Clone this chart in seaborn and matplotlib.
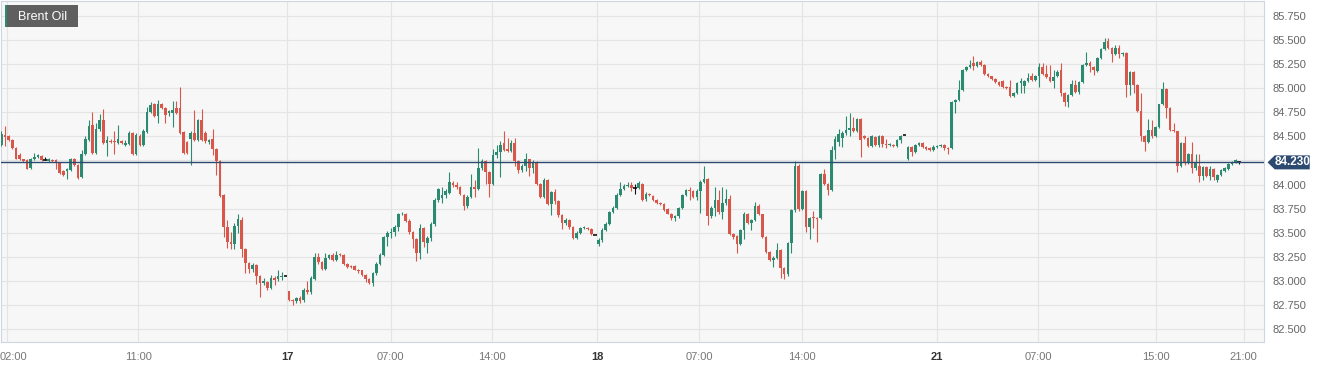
import numpy as np
import pandas as pd
import matplotlib
matplotlib.use("Agg")
import matplotlib.pyplot as plt
import seaborn as sns
from matplotlib.patches import Polygon, Rectangle
from matplotlib.transforms import ScaledTranslation

# 15-minute candles, Brent Oil
opens = [
    84.41, 84.51, 84.50, 84.46, 84.38, 84.31, 84.26, 84.25, 84.17, 84.26,
    84.29, 84.30, 84.25, 84.24, 84.25, 84.25, 84.22, 84.14, 84.14, 84.15,
    84.27, 84.20, 84.08, 84.32, 84.46, 84.62, 84.33, 84.58, 84.67, 84.43,
    84.45, 84.45, 84.43, 84.45, 84.41, 84.42, 84.53, 84.32, 84.50, 84.41,
    84.54, 84.75, 84.83, 84.71, 84.84, 84.79, 84.74, 84.74, 84.79, 84.79,
    84.54, 84.44, 84.47, 84.53, 84.46, 84.67, 84.53, 84.44, 84.47, 84.37,
    84.24, 83.89, 83.56, 83.41, 83.38, 83.57, 83.63, 83.33, 83.19, 83.13,
    83.17, 83.05, 82.98, 82.99, 82.93, 83.03, 83.02, 83.04, 83.05, 82.90,
    82.80, 82.79, 82.83, 82.80, 82.91, 82.89, 83.02, 83.25, 83.20, 83.13,
    83.24, 83.27, 83.22, 83.28, 83.27, 83.18, 83.16, 83.16, 83.12, 83.11,
    83.06, 83.02, 82.98, 83.08, 83.18, 83.27, 83.46, 83.50, 83.51, 83.56,
    83.69, 83.70, 83.62, 83.51, 83.44, 83.29, 83.55, 83.39, 83.45, 83.59,
    83.84, 83.86, 83.89, 83.91, 84.02, 84.00, 83.98, 83.89, 83.78, 83.87,
    83.98, 83.95, 84.17, 84.24, 84.13, 84.01, 84.31, 84.34, 84.43, 84.37,
    84.35, 84.43, 84.24, 84.15, 84.19, 84.26, 84.17, 84.22, 84.01, 83.87,
    84.05, 83.80, 83.92, 83.83, 83.68, 83.60, 83.63, 83.56, 83.45, 83.50,
    83.55, 83.55, 83.54, 83.48, 83.38, 83.43, 83.53, 83.59, 83.72, 83.76,
    83.89, 83.95, 83.99, 84.00, 83.96, 83.96, 84.01, 83.85, 83.90, 83.88,
    83.84, 83.81, 83.80, 83.75, 83.70, 83.65, 83.67, 83.76, 83.89, 83.94,
    83.93, 83.87, 83.93, 84.03, 84.06, 83.67, 83.76, 83.84, 83.72, 83.81,
    83.85, 83.49, 83.47, 83.38, 83.53, 83.70, 83.60, 83.63, 83.78, 83.69,
    83.46, 83.30, 83.22, 83.24, 83.32, 83.14, 83.07, 83.39, 83.74, 84.19,
    83.75, 83.93, 83.56, 83.66, 83.65, 83.65, 84.11, 84.01, 83.94, 84.36,
    84.44,
    84.48, 84.53, 84.57, 84.59, 84.55, 84.68, 84.50, 84.48, 84.40, 84.49,
    84.41, 84.50, 84.42, 84.41, 84.41, 84.40, 84.46, 84.51, 84.26, 84.39,
    84.34, 84.41, 84.43, 84.39, 84.38, 84.36, 84.39, 84.40, 84.41, 84.38,
    84.38, 84.86, 84.88, 84.98, 85.19, 85.22, 85.26, 85.23, 85.27, 85.24,
    85.15, 85.12, 85.09, 85.06, 85.07, 85.01, 85.01, 84.92, 84.95, 85.05,
    85.02, 85.07, 85.12, 85.08, 85.13, 85.22, 85.15, 85.11, 85.07, 85.12,
    85.19, 84.95, 84.86, 84.93, 85.03, 84.96, 85.06, 85.24, 85.26, 85.22,
    85.18, 85.31, 85.40, 85.49, 85.42, 85.35, 85.42, 85.35,
    85.36, 85.03, 85.17,
    85.03, 84.76, 84.50, 84.44, 84.57, 84.50, 84.60, 84.83, 84.99, 84.79,
    84.57, 84.55, 84.19, 84.43, 84.22, 84.32, 84.17, 84.19, 84.09, 84.18,
    84.09, 84.16, 84.05, 84.10, 84.14, 84.16, 84.21, 84.23, 84.23,
]
highs = [
    84.56, 84.61, 84.51, 84.47, 84.39, 84.33, 84.27, 84.26, 84.28, 84.33,
    84.32, 84.31, 84.29, 84.28, 84.26, 84.26, 84.23, 84.15, 84.17, 84.28,
    84.28, 84.21, 84.36, 84.50, 84.67, 84.75, 84.64, 84.73, 84.78, 84.50,
    84.47, 84.55, 84.62, 84.46, 84.46, 84.55, 84.54, 84.53, 84.52, 84.58,
    84.80, 84.86, 84.85, 84.88, 84.85, 84.80, 84.77, 84.87, 84.87, 85.01,
    84.55, 84.45, 84.55, 84.77, 84.68, 84.78, 84.55, 84.47, 84.58, 84.38,
    84.25, 83.90, 83.63, 83.51, 83.60, 83.69, 83.66, 83.34, 83.20, 83.19,
    83.18, 83.06, 83.03, 83.00, 83.06, 83.05, 83.11, 83.09, 83.05, 82.90,
    82.81, 82.84, 82.85, 82.93, 83.00, 83.05, 83.29, 83.29, 83.21, 83.29,
    83.28, 83.29, 83.31, 83.29, 83.28, 83.19, 83.17, 83.17, 83.13, 83.12,
    83.07, 83.03, 83.09, 83.20, 83.29, 83.47, 83.52, 83.55, 83.58, 83.71,
    83.72, 83.71, 83.64, 83.52, 83.45, 83.59, 83.56, 83.47, 83.61, 83.86,
    83.96, 83.98, 83.95, 84.13, 84.04, 84.03, 83.99, 83.90, 83.89, 84.11,
    84.05, 84.38, 84.26, 84.25, 84.14, 84.37, 84.41, 84.45, 84.55, 84.48,
    84.46, 84.48, 84.25, 84.21, 84.33, 84.27, 84.25, 84.24, 84.02, 84.07,
    84.06, 83.93, 83.95, 83.84, 83.69, 83.65, 83.64, 83.57, 83.52, 83.56,
    83.57, 83.56, 83.55, 83.48, 83.45, 83.55, 83.61, 83.73, 83.78, 83.91,
    84.03, 84.01, 84.03, 84.03, 84.01, 84.04, 84.02, 83.92, 83.91, 83.89,
    83.85, 83.82, 83.81, 83.76, 83.71, 83.68, 83.77, 83.90, 83.95, 83.97,
    83.94, 83.95, 84.05, 84.19, 84.07, 83.78, 83.97, 83.94, 83.98, 83.95,
    83.89, 83.50, 83.48, 83.54, 83.72, 83.71, 83.64, 83.82, 83.80, 83.70,
    83.47, 83.31, 83.26, 83.39, 83.33, 83.15, 83.40, 83.75, 84.24, 84.21,
    83.94, 83.94, 83.66, 83.73, 83.66, 84.12, 84.16, 84.02, 84.40, 84.50,
    84.58,
    84.56, 84.71, 84.74, 84.70, 84.69, 84.69, 84.51, 84.49, 84.51, 84.50,
    84.51, 84.51, 84.47, 84.43, 84.42, 84.47, 84.51, 84.51, 84.40, 84.40,
    84.42, 84.44, 84.44, 84.40, 84.39, 84.41, 84.41, 84.42, 84.42, 84.39,
    84.87, 84.89, 85.08, 85.20, 85.23, 85.29, 85.33, 85.28, 85.29, 85.25,
    85.16, 85.13, 85.10, 85.07, 85.08, 85.02, 85.08, 84.96, 85.06, 85.10,
    85.08, 85.16, 85.16, 85.14, 85.26, 85.26, 85.24, 85.24, 85.19, 85.19,
    85.26, 84.96, 84.94, 85.08, 85.08, 85.07, 85.25, 85.37, 85.28, 85.23,
    85.32, 85.41, 85.52, 85.52, 85.43, 85.45, 85.45, 85.37,
    85.37, 85.18, 85.18,
    85.04, 84.95, 84.51, 84.68, 84.67, 84.61, 84.84, 85.06, 85.00, 84.80,
    84.64, 84.56, 84.44, 84.50, 84.33, 84.44, 84.32, 84.32, 84.19, 84.19,
    84.19, 84.17, 84.11, 84.16, 84.18, 84.22, 84.24, 84.26, 84.24,
]
lows = [
    84.40, 84.40, 84.45, 84.37, 84.26, 84.25, 84.23, 84.16, 84.16, 84.25,
    84.28, 84.24, 84.25, 84.23, 84.23, 84.16, 84.11, 84.09, 84.06, 84.14,
    84.19, 84.06, 84.07, 84.31, 84.45, 84.32, 84.32, 84.55, 84.42, 84.30,
    84.43, 84.32, 84.42, 84.42, 84.40, 84.41, 84.31, 84.31, 84.40, 84.40,
    84.53, 84.74, 84.70, 84.64, 84.78, 84.64, 84.71, 84.60, 84.73, 84.52,
    84.32, 84.32, 84.20, 84.45, 84.45, 84.45, 84.43, 84.42, 84.31, 84.10,
    83.87, 83.46, 83.34, 83.33, 83.33, 83.50, 83.25, 83.08, 83.08, 83.09,
    82.97, 82.84, 82.96, 82.91, 82.92, 82.96, 83.00, 83.01, 83.05, 82.79,
    82.75, 82.77, 82.77, 82.78, 82.87, 82.87, 83.01, 83.18, 83.12, 83.11,
    83.23, 83.21, 83.21, 83.26, 83.17, 83.14, 83.14, 83.11, 83.08, 83.05,
    82.99, 82.97, 82.95, 83.06, 83.17, 83.26, 83.36, 83.45, 83.47, 83.52,
    83.68, 83.61, 83.49, 83.34, 83.21, 83.23, 83.35, 83.29, 83.42, 83.57,
    83.82, 83.81, 83.86, 83.90, 83.98, 83.95, 83.89, 83.74, 83.76, 83.86,
    83.87, 83.94, 84.15, 84.01, 83.87, 84.00, 84.28, 84.08, 84.35, 84.34,
    84.34, 84.19, 84.12, 84.13, 84.14, 84.09, 84.12, 84.00, 83.86, 83.86,
    83.79, 83.68, 83.80, 83.66, 83.54, 83.58, 83.54, 83.44, 83.44, 83.49,
    83.54, 83.53, 83.48, 83.48, 83.36, 83.41, 83.52, 83.58, 83.71, 83.75,
    83.88, 83.94, 83.98, 83.93, 83.90, 83.95, 83.83, 83.83, 83.88, 83.83,
    83.80, 83.79, 83.73, 83.69, 83.63, 83.62, 83.65, 83.75, 83.88, 83.84,
    83.86, 83.84, 83.71, 84.02, 83.58, 83.65, 83.67, 83.70, 83.64, 83.79,
    83.48, 83.44, 83.29, 83.37, 83.44, 83.59, 83.53, 83.62, 83.68, 83.45,
    83.29, 83.21, 83.15, 83.23, 83.03, 83.02, 83.05, 83.29, 83.72, 83.73,
    83.74, 83.51, 83.44, 83.55, 83.41, 83.64, 84.00, 83.89, 83.93, 84.26,
    84.40,
    84.39, 84.51, 84.50, 84.54, 84.54, 84.29, 84.47, 84.39, 84.39, 84.40,
    84.39, 84.39, 84.38, 84.40, 84.39, 84.39, 84.43, 84.51, 84.25, 84.30,
    84.33, 84.40, 84.38, 84.36, 84.35, 84.35, 84.38, 84.39, 84.36, 84.32,
    84.37, 84.74, 84.87, 84.97, 85.18, 85.21, 85.19, 85.22, 85.23, 85.14,
    85.11, 85.08, 85.05, 85.02, 85.00, 84.99, 84.91, 84.91, 84.94, 84.95,
    84.95, 85.06, 85.07, 85.07, 85.01, 85.14, 85.10, 85.06, 85.00, 85.11,
    84.92, 84.81, 84.80, 84.92, 84.95, 84.94, 85.05, 85.23, 85.17, 85.14,
    85.17, 85.30, 85.39, 85.40, 85.27, 85.34, 85.31, 85.33,
    84.91, 84.93, 84.95,
    84.75, 84.45, 84.35, 84.43, 84.48, 84.49, 84.59, 84.82, 84.69, 84.56,
    84.54, 84.13, 84.18, 84.20, 84.21, 84.12, 84.15, 84.03, 84.05, 84.08,
    84.05, 84.05, 84.03, 84.09, 84.13, 84.15, 84.20, 84.22, 84.21,
]
closes = [
    84.52, 84.49, 84.46, 84.38, 84.27, 84.26, 84.24, 84.16, 84.27, 84.29,
    84.31, 84.25, 84.25, 84.27, 84.24, 84.22, 84.12, 84.10, 84.16, 84.27,
    84.20, 84.07, 84.32, 84.47, 84.61, 84.33, 84.58, 84.67, 84.43, 84.46,
    84.44, 84.44, 84.47, 84.43, 84.43, 84.53, 84.32, 84.51, 84.41, 84.55,
    84.75, 84.82, 84.71, 84.84, 84.79, 84.72, 84.76, 84.77, 84.74, 84.53,
    84.33, 84.33, 84.53, 84.46, 84.67, 84.46, 84.45, 84.46, 84.37, 84.24,
    83.88, 83.56, 83.41, 83.38, 83.57, 83.64, 83.33, 83.19, 83.13, 83.17,
    83.05, 82.98, 83.00, 82.93, 83.03, 83.01, 83.05, 83.05, 83.05, 82.80,
    82.79, 82.83, 82.79, 82.91, 82.89, 83.03, 83.25, 83.20, 83.13, 83.24,
    83.27, 83.22, 83.27, 83.27, 83.18, 83.15, 83.15, 83.12, 83.10, 83.06,
    83.02, 82.98, 83.08, 83.18, 83.27, 83.46, 83.50, 83.51, 83.56, 83.69,
    83.70, 83.62, 83.51, 83.44, 83.29, 83.55, 83.41, 83.45, 83.59, 83.84,
    83.95, 83.89, 83.93, 84.03, 84.00, 83.98, 83.90, 83.78, 83.87, 83.98,
    83.95, 84.17, 84.24, 84.13, 84.01, 84.31, 84.34, 84.41, 84.36, 84.35,
    84.43, 84.24, 84.15, 84.19, 84.27, 84.17, 84.22, 84.01, 83.87, 84.05,
    83.80, 83.92, 83.83, 83.68, 83.60, 83.63, 83.56, 83.45, 83.50, 83.55,
    83.56, 83.54, 83.49, 83.48, 83.43, 83.53, 83.59, 83.72, 83.76, 83.89,
    83.95, 83.99, 84.00, 83.96, 83.96, 84.02, 83.84, 83.90, 83.89, 83.84,
    83.81, 83.80, 83.74, 83.70, 83.65, 83.67, 83.76, 83.89, 83.94, 83.93,
    83.87, 83.93, 84.03, 84.06, 83.67, 83.76, 83.84, 83.72, 83.81, 83.85,
    83.49, 83.46, 83.38, 83.53, 83.70, 83.60, 83.63, 83.78, 83.69, 83.46,
    83.30, 83.22, 83.24, 83.32, 83.14, 83.07, 83.39, 83.74, 84.19, 83.75,
    83.93, 83.56, 83.65, 83.65, 83.64, 84.11, 84.01, 83.94, 84.36, 84.47,
    84.52,
    84.53, 84.57, 84.59, 84.55, 84.68, 84.46, 84.48, 84.40, 84.50, 84.41,
    84.50, 84.42, 84.41, 84.42, 84.40, 84.46, 84.50, 84.51, 84.39, 84.34,
    84.41, 84.43, 84.39, 84.37, 84.36, 84.39, 84.40, 84.41, 84.38, 84.37,
    84.86, 84.88, 84.98, 85.19, 85.22, 85.24, 85.23, 85.27, 85.24, 85.15,
    85.12, 85.09, 85.06, 85.03, 85.01, 85.00, 84.92, 84.95, 85.05, 85.07,
    85.07, 85.10, 85.08, 85.13, 85.22, 85.15, 85.11, 85.07, 85.11, 85.17,
    84.95, 84.86, 84.93, 85.04, 84.96, 85.06, 85.24, 85.26, 85.23, 85.19,
    85.31, 85.40, 85.48, 85.41, 85.35, 85.42, 85.35, 85.36,
    85.03, 85.17, 85.03,
    84.76, 84.50, 84.44, 84.57, 84.50, 84.60, 84.83, 84.99, 84.79, 84.57,
    84.55, 84.19, 84.43, 84.22, 84.32, 84.17, 84.22, 84.09, 84.18, 84.09,
    84.16, 84.08, 84.10, 84.15, 84.17, 84.21, 84.23, 84.25, 84.23,
]

# x axis labels, placed at candle positions (index units)
tick_pos = [1.6, 37.6, 78.5, 106.9, 134.8, 163.7, 191.7, 220.0, 256.9, 284.8, 317.0, 341.2]
tick_labels = ["02:00", "11:00", "17", "07:00", "14:00", "18",
               "07:00", "14:00", "21", "07:00", "15:00", "21:00"]
day_labels = ["17", "18", "21"]
price_ticks = [82.50, 82.75, 83.00, 83.25, 83.50, 83.75, 84.00,
               84.25, 84.50, 84.75, 85.00, 85.25, 85.50, 85.75]
last_price = 84.23
title = "Brent Oil"

UP = "#2b8a6f"
DOWN = "#d8574a"
NAVY = "#2c4a70"

df = pd.DataFrame({"open": opens, "high": highs, "low": lows, "close": closes})
df["idx"] = np.arange(len(df))
df["high"] = df[["high", "open", "close"]].max(axis=1)
df["low"] = df[["low", "open", "close"]].min(axis=1)
df["color"] = np.where(df.close > df.open, UP, np.where(df.close < df.open, DOWN, "#111111"))

sns.set_theme(style="whitegrid", rc={
    "axes.facecolor": "#f7f7f7",
    "grid.color": "#e4e4e4",
    "grid.linewidth": 0.8,
    "axes.edgecolor": "#cdd4e2",
    "axes.linewidth": 0.8,
})
plt.rcParams["font.family"] = ["Liberation Sans", "DejaVu Sans"]

fig = plt.figure(figsize=(13.29, 3.68), dpi=100)
ax = fig.add_axes([0.5 / 1329, 1 - 342 / 368, 1263.5 / 1329, 341 / 368])

# wicks
ax.vlines(df.idx, df.low, df.high, colors=df.color, linewidth=0.8, zorder=3)
# bodies
body_lo = df[["open", "close"]].min(axis=1)
body_h = (df.close - df.open).abs().clip(lower=0.009)
body = df[df.close != df.open]
ax.bar(body.idx, body_h[body.index], bottom=body_lo[body.index], width=0.72,
       color=body.color, linewidth=0, zorder=4)
doji = df[df.close == df.open]
ax.hlines(doji.close, doji.idx - 0.5, doji.idx + 0.5, colors="#111111", linewidth=1.2, zorder=4)

# last price line
ax.axhline(last_price, color=NAVY, linewidth=1.0, zorder=5)

ax.set_xlim(-0.27, 346.8)
ax.set_ylim(82.369, 85.902)
ax.set_xticks(tick_pos)
ax.set_xticklabels(tick_labels)
ax.set_yticks(price_ticks)
# the last-price tag takes the place of the label next to it
ax.set_yticklabels(["" if abs(p - last_price) < 0.1 else f"{p:.3f}" for p in price_ticks])
ax.yaxis.tick_right()
ax.tick_params(axis="y", length=0, pad=6, labelsize=8, labelcolor="#666666")
ax.tick_params(axis="x", length=0, pad=7, labelsize=8, labelcolor="#777777")
for lab in ax.get_xticklabels():
    if lab.get_text() in day_labels:
        lab.set_fontweight("bold")
        lab.set_color("#333333")
first = ax.get_xticklabels()[0]
first.set_horizontalalignment("left")
first.set_transform(first.get_transform() + ScaledTranslation(-0.08, 0, fig.dpi_scale_trans))
ax.grid(True, zorder=0)
for s in ax.spines.values():
    s.set_visible(True)

# price tag on the right
ytr = ax.get_yaxis_transform()
h = 7 / 96.5
tag = Polygon([(1.0028, last_price), (1.0085, last_price + h), (1.0362, last_price + h),
               (1.0362, last_price - h), (1.0085, last_price - h)],
              closed=True, transform=ytr, clip_on=False, facecolor=NAVY, edgecolor="none", zorder=6)
ax.add_patch(tag)
ax.text(1.0225, last_price, f"{last_price:.3f}", transform=ytr, ha="center", va="center",
        color="white", fontsize=8.5, fontweight="bold", clip_on=False, zorder=7)

# name badge top-left
fig.patches.append(Rectangle((5 / 1329, 1 - 27 / 368), 73 / 1329, 22 / 368,
                             transform=fig.transFigure, facecolor="#5f5f5f", edgecolor="none", zorder=8))
fig.patches.append(Rectangle((5 / 1329, 1 - 27 / 368), 2.4 / 1329, 22 / 368,
                             transform=fig.transFigure, facecolor=UP, edgecolor="none", zorder=9))
fig.text(17.5 / 1329, 1 - 16.5 / 368, title, ha="left", va="center", color="white",
         fontsize=9, zorder=10)

fig.savefig("out.png", dpi=100)
